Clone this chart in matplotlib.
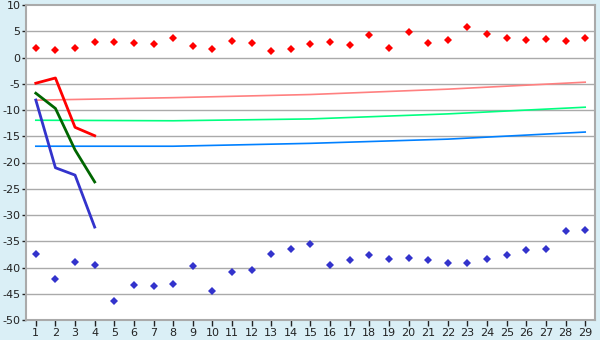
import numpy as np
import matplotlib
matplotlib.use("Agg")
import matplotlib.pyplot as plt

plt.rcParams["axes.unicode_minus"] = False

# ---------------------------------------------------------
# Data
# ---------------------------------------------------------
days = list(range(1, 30))

red_points = [1.9, 1.35, 1.9, 2.9, 2.9, 2.75, 2.55, 3.65, 2.1, 1.55,
              3.1, 2.7, 1.15, 1.55, 2.5, 2.9, 2.3, 4.2, 1.75, 4.8,
              2.7, 3.25, 5.75, 4.4, 3.65, 3.25, 3.45, 3.1, 3.65]
blue_points = [-37.5, -42.1, -38.9, -39.6, -46.3, -43.4, -43.6, -43.05, -39.8, -44.4,
               -40.8, -40.4, -37.5, -36.4, -35.6, -39.6, -38.5, -37.7, -38.3, -38.1,
               -38.5, -39.05, -39.2, -38.3, -37.7, -36.6, -36.4, -33.1, -32.9]

line_days = [1, 2, 3, 4]
red_line = [-4.9, -3.9, -13.3, -14.9]
green_line = [-6.8, -9.7, -17.6, -23.7]
blue_line = [-8.1, -21.0, -22.4, -32.3]

trend_days = [1, 8, 15, 22, 29]
trend_red = [-8.13, -7.65, -7.05, -6.03, -4.7]
trend_green = [-11.95, -12.05, -11.7, -10.74, -9.47]
trend_blue = [-16.9, -16.9, -16.35, -15.55, -14.2]

# ---------------------------------------------------------
# Plot
# ---------------------------------------------------------
bg = "#DAEFF6"
grid_c = "#AAAAAA"

fig = plt.figure(figsize=(6, 3.4), dpi=100, facecolor=bg)
ax = fig.add_axes([26 / 600, 20 / 340, 569 / 600, 315 / 340])
ax.set_facecolor("white")

for yv in range(-45, 10, 5):
    ax.axhline(yv, color=grid_c, linewidth=1, zorder=1)

ax.plot(trend_days, trend_red, color="#FF8080", linewidth=1.2, zorder=2)
ax.plot(trend_days, trend_green, color="#00FF80", linewidth=1.2, zorder=2)
ax.plot(trend_days, trend_blue, color="#0080FF", linewidth=1.2, zorder=2)

ax.plot(line_days, red_line, color="#FF0000", linewidth=2, zorder=3)
ax.plot(line_days, green_line, color="#006600", linewidth=2, zorder=3)
ax.plot(line_days, blue_line, color="#3333CC", linewidth=2, zorder=3)

ax.plot(days, red_points, linestyle="none", marker="D", markersize=4.2,
        color="#FF0000", markeredgewidth=0, zorder=4)
ax.plot(days, blue_points, linestyle="none", marker="D", markersize=4.2,
        color="#3333CC", markeredgewidth=0, zorder=4)

ax.set_xlim(0.5, 29.5)
ax.set_ylim(-50, 10)
ax.set_xticks(days)
ax.set_yticks(range(-50, 11, 5))

for s in ax.spines.values():
    s.set_color(grid_c)
    s.set_linewidth(1.5)

ax.tick_params(axis="both", labelsize=8, colors="#222222", width=1)
ax.tick_params(axis="y", length=3, pad=1)
ax.tick_params(axis="x", length=4, pad=2)

fig.savefig("out.png", dpi=100, facecolor=bg)
